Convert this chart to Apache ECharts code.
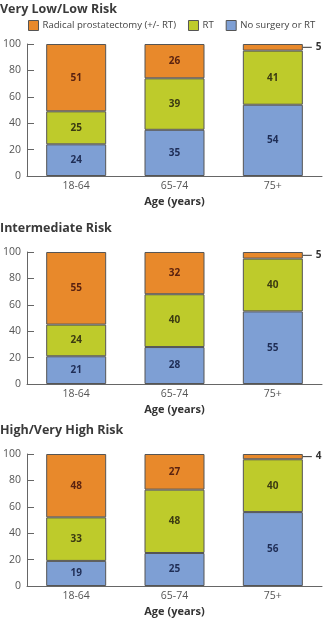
<!DOCTYPE html>
<html>
<head>
<meta charset="utf-8">
<script src="https://cdn.jsdelivr.net/npm/echarts@6/dist/echarts.min.js"></script>
<style>
  html, body { margin: 0; padding: 0; background: #fff; }
  #chart { width: 323px; height: 618px; }
</style>
</head>
<body>
<div id="chart"></div>
<script>
// Treatment share (%) by age group, for three risk groups
const ageGroups = ['18-64', '65-74', '75+'];
const yTicks = [0, 20, 40, 60, 80, 100];
const panelTitles = ['Very Low/Low Risk', 'Intermediate Risk', 'High/Very High Risk'];
const seriesNames = ['Radical prostatectomy (+/- RT)', 'RT', 'No surgery or RT'];

const noSurgery = [
  [24, 35, 54],
  [21, 28, 55],
  [19, 25, 56]
];
const radiotherapy = [
  [25, 39, 41],
  [24, 40, 40],
  [33, 48, 40]
];
const prostatectomy = [
  [51, 26, 5],
  [55, 32, 5],
  [48, 27, 4]
];

const colors = { rp: '#E8892B', rt: '#BECB2B', none: '#7E9FD4' };
const labelColors = { rp: '#5a2210', rt: '#3b3a12', none: '#1f2d55' };
const FONT = '"Open Sans", "Noto Sans", sans-serif';

const gridTops = [44, 252, 454];
const gridH = 132;

const grids = [], xAxes = [], yAxes = [], series = [], titles = [];

gridTops.forEach((top, i) => {
  grids.push({ left: 23, width: 299, top: top, height: gridH });
  titles.push({
    text: panelTitles[i], left: 0, top: top - (i === 0 ? 41 : 30), padding: 0,
    textStyle: { fontFamily: FONT, fontSize: 12.5, fontWeight: 'bold', color: '#3a3a3a' }
  });
  xAxes.push({
    type: 'category', gridIndex: i, data: ageGroups,
    name: 'Age (years)', nameLocation: 'middle', nameGap: 20,
    nameTextStyle: { fontFamily: FONT, fontSize: 11, fontWeight: 'bold', color: '#333' },
    axisLine: { lineStyle: { color: '#666', width: 1 } },
    axisTick: { inside: true, length: 3, lineStyle: { color: '#666' } },
    axisLabel: { fontFamily: FONT, fontSize: 10.5, color: '#555', margin: 5 }
  });
  yAxes.push({
    type: 'value', gridIndex: i, min: 0, max: 100, interval: 20,
    axisLine: { show: true, lineStyle: { color: '#666', width: 1 } },
    axisTick: { show: true, inside: true, length: 7, lineStyle: { color: '#666' } },
    splitLine: { show: false },
    axisLabel: {
      fontFamily: FONT, fontSize: 10.5, color: '#555', margin: 6,
      formatter: v => yTicks.includes(v) ? String(v) : ''
    }
  });

  const barBase = {
    type: 'bar', stack: 'total' + i, xAxisIndex: i, yAxisIndex: i,
    barWidth: 60,
    itemStyle: { borderColor: '#555', borderWidth: 1 }
  };
  const inLabel = c => ({
    show: true, position: 'inside', fontFamily: FONT, fontSize: 10,
    fontWeight: 'bold', color: c
  });

  series.push(Object.assign({}, barBase, {
    name: seriesNames[2], data: noSurgery[i],
    itemStyle: Object.assign({ color: colors.none }, barBase.itemStyle),
    label: inLabel(labelColors.none)
  }));
  series.push(Object.assign({}, barBase, {
    name: seriesNames[1], data: radiotherapy[i],
    itemStyle: Object.assign({ color: colors.rt }, barBase.itemStyle),
    label: inLabel(labelColors.rt)
  }));
  // thin segments get their value outside, joined by a short leader
  series.push(Object.assign({}, barBase, {
    name: seriesNames[0],
    data: prostatectomy[i].map(v => {
      if (v >= 10) return { value: v, label: inLabel(labelColors.rp) };
      return {
        value: v,
        label: {
          show: true, position: 'right', distance: 0,
          formatter: '{line|}{v|' + v + '}',
          rich: {
            line: { width: 9, height: 1, backgroundColor: '#333' },
            v: { fontFamily: FONT, fontSize: 10, fontWeight: 'bold', color: '#333', padding: [0, 0, 0, 4] }
          }
        }
      };
    }),
    itemStyle: Object.assign({ color: colors.rp }, barBase.itemStyle)
  }));
});

const chart = echarts.init(document.getElementById('chart'), null, { renderer: 'canvas' });
chart.setOption({
  animation: false,
  backgroundColor: '#fff',
  title: titles,
  legend: {
    top: 20, left: 28, width: 300, padding: 0,
    data: seriesNames,
    icon: 'rect', itemWidth: 10, itemHeight: 10, itemGap: 12,
    itemStyle: { borderColor: '#555', borderWidth: 1 },
    textStyle: { fontFamily: FONT, fontSize: 9.6, color: '#444', padding: [0, 0, 0, -1] }
  },
  grid: grids,
  xAxis: xAxes,
  yAxis: yAxes,
  series: series
});
</script>
</body>
</html>
